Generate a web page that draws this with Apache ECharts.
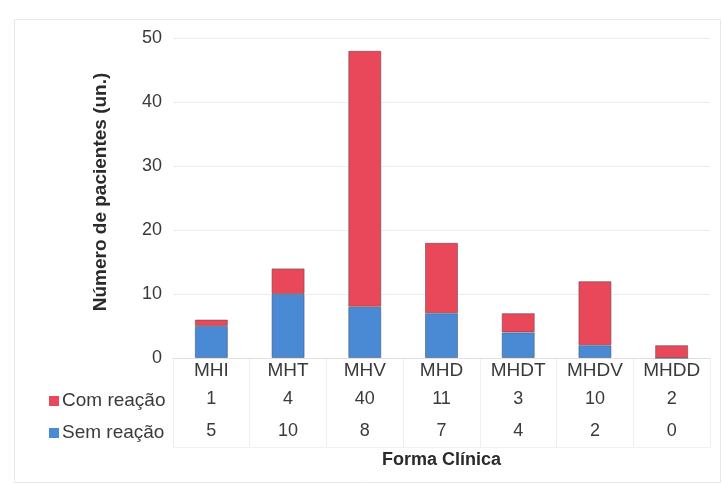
<!DOCTYPE html>
<html>
<head>
<meta charset="utf-8">
<script src="https://cdn.jsdelivr.net/npm/echarts@6/dist/echarts.min.js"></script>
<style>
  html, body { margin: 0; padding: 0; background: #ffffff; }
  #chart { width: 722px; height: 485px; }
</style>
</head>
<body>
<div id="chart"></div>
<script>
// Clinical forms and patient counts per reaction status
const categories = ['MHI', 'MHT', 'MHV', 'MHD', 'MHDT', 'MHDV', 'MHDD'];
const comReacao = [1, 4, 40, 11, 3, 10, 2];
const semReacao = [5, 10, 8, 7, 4, 2, 0];
const yTicks = { min: 0, max: 50, interval: 10 };

const FONT = '"Liberation Sans", Arial, sans-serif';
const RED = '#E9485A';
const BLUE = '#4A89D4';
const TEXT = '#3a3a3a';

const chart = echarts.init(document.getElementById('chart'), null, { renderer: 'canvas' });

// Category label + the two data-table rows beneath each column
function tableLabel(value, idx) {
  return '{c|' + value + '}\n{a|' + comReacao[idx] + '}\n{b|' + semReacao[idx] + '}';
}

const option = {
  backgroundColor: '#ffffff',
  animation: false,
  textStyle: { fontFamily: FONT },
  legend: {
    orient: 'vertical',
    left: 44,
    top: 386,
    data: ['Com reação', 'Sem reação'],
    icon: 'rect',
    itemWidth: 10,
    itemHeight: 10,
    itemGap: 12,
    textStyle: { fontFamily: FONT, fontSize: 19, color: TEXT, lineHeight: 20, padding: [0, 0, 0, -2] },
    itemStyle: { borderWidth: 0 }
  },
  grid: [
    { left: 173, right: 12, top: 38, bottom: 127 },
    { left: 173, right: 12, top: 358, bottom: 38 }
  ],
  xAxis: [
    {
      type: 'category',
      gridIndex: 0,
      data: categories,
      axisLine: { show: true, lineStyle: { color: '#e0e0e0' } },
      axisTick: { show: false },
      splitLine: { show: false },
      axisLabel: {
        margin: 0,
        interval: 0,
        formatter: tableLabel,
        rich: {
          c: { fontFamily: FONT, fontSize: 19, color: TEXT, lineHeight: 26 },
          a: { fontFamily: FONT, fontSize: 18, color: TEXT, lineHeight: 30 },
          b: { fontFamily: FONT, fontSize: 18, color: TEXT, lineHeight: 34 }
        }
      },
      name: 'Forma Clínica',
      nameLocation: 'middle',
      nameGap: 93,
      nameTextStyle: { fontFamily: FONT, fontSize: 18, fontWeight: 'bold', color: '#2a2a2a' }
    },
    {
      type: 'category',
      gridIndex: 1,
      data: categories,
      axisLine: { show: true, lineStyle: { color: '#f0f0f0' } },
      axisTick: { show: false },
      axisLabel: { show: false },
      splitLine: { show: true, lineStyle: { color: '#efefef', width: 1 } }
    }
  ],
  yAxis: [
    {
      type: 'value',
      gridIndex: 0,
      min: yTicks.min,
      max: yTicks.max,
      interval: yTicks.interval,
      axisLine: { show: false },
      axisTick: { show: false },
      axisLabel: { margin: 11, fontFamily: FONT, fontSize: 18, color: TEXT },
      splitLine: { show: true, lineStyle: { color: '#ececec', width: 1 } },
      name: 'Número de pacientes (un.)',
      nameLocation: 'middle',
      nameRotate: 90,
      nameGap: 63,
      nameTextStyle: { fontFamily: FONT, fontSize: 19, fontWeight: 'bold', color: '#2a2a2a', padding: [0, 0, 0, 12] }
    },
    {
      type: 'value',
      gridIndex: 1,
      min: 0,
      max: 1,
      show: false
    }
  ],
  series: [
    {
      name: 'Sem reação',
      type: 'bar',
      stack: 'total',
      xAxisIndex: 0,
      yAxisIndex: 0,
      barWidth: 33,
      data: semReacao,
      itemStyle: { color: BLUE, borderColor: 'rgba(70,80,110,0.55)', borderWidth: 1 }
    },
    {
      name: 'Com reação',
      type: 'bar',
      stack: 'total',
      xAxisIndex: 0,
      yAxisIndex: 0,
      barWidth: 33,
      data: comReacao,
      itemStyle: { color: RED, borderColor: 'rgba(110,70,80,0.6)', borderWidth: 1 }
    }
  ],
  graphic: [
    {
      type: 'rect',
      left: 12,
      top: 17,
      shape: { width: 706, height: 463 },
      style: { fill: 'none', stroke: '#e8e8e8', lineWidth: 1 },
      silent: true,
      z: -1
    }
  ]
};

chart.setOption(option);
</script>
</body>
</html>
